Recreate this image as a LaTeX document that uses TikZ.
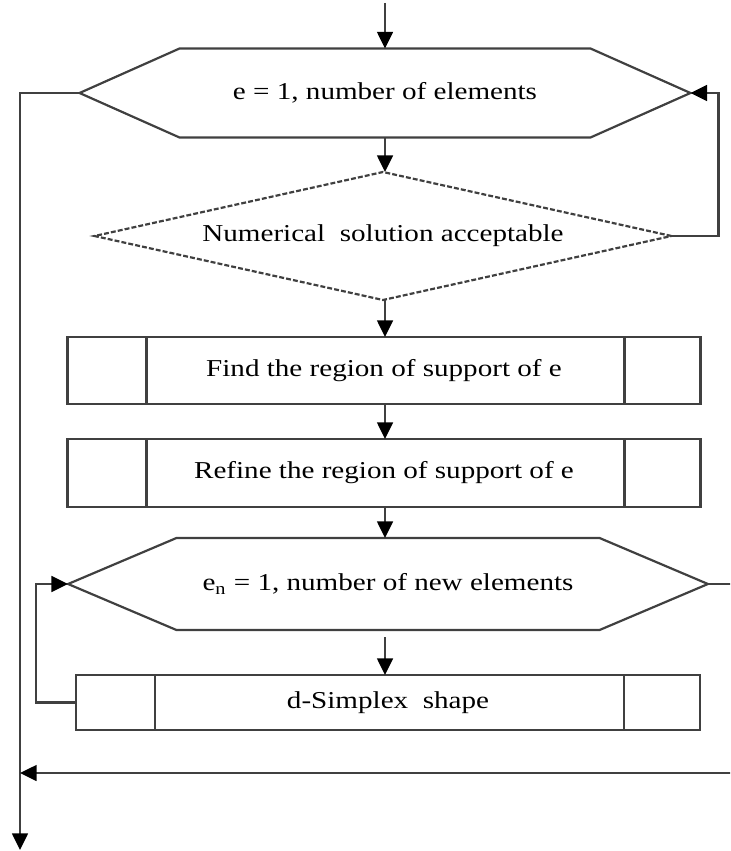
\documentclass[tikz,border=0pt]{standalone}
\usepackage{fontspec}
\setmainfont{Liberation Serif}[FakeStretch=1.2]
\usetikzlibrary{shapes.geometric,shapes.symbols,arrows.meta}

\begin{document}
\begin{tikzpicture}[x=0.02cm,y=-0.02cm,line width=1.25pt,>={Triangle[length=9.5pt,width=9pt,color=black]},
		font=\fontsize{13.8}{16}\selectfont]
	\tikzset{
		conn/.style={->,draw=black!75},
		hexbox/.style={signal,signal to=west and east,signal pointer angle=48,draw=black!75,inner sep=0pt,outer sep=0pt},
		testbox/.style={diamond,aspect=4.5,draw=black!75,dash pattern=on 2.8pt off 1.2pt,inner sep=0pt,outer sep=0pt},
		procbox/.style={rectangle,draw=black!75,inner sep=0pt,outer sep=0pt,minimum width=12.66cm,
			path picture={\draw[black!75,line width=1.25pt]
				([xshift=1.58cm]path picture bounding box.north west)--([xshift=1.58cm]path picture bounding box.south west)
				([xshift=-1.52cm]path picture bounding box.north east)--([xshift=-1.52cm]path picture bounding box.south east);}}
	}
	\useasboundingbox (0,0) rectangle (730,851);
	\clip (0,0) rectangle (730,851);
	% boxes
	\node[hexbox,minimum width=12.22cm,minimum height=1.78cm] (loop1) at (385,93) {e = 1, number of elements};
	\node[testbox,minimum width=11.54cm,minimum height=2.56cm] (accept) at (383,236) {Numerical\ \ solution acceptable};
	\node[procbox,minimum height=1.34cm] (find) at (384,370.5) {Find the region of support of e};
	\node[procbox,minimum height=1.36cm] (refine) at (384,473) {Refine the region of support of e};
	\node[hexbox,minimum width=12.8cm,minimum height=1.84cm,signal pointer angle=46] (loop2) at (388,584) {e\textsubscript{n} = 1, number of new elements};
	\node[procbox,minimum width=12.48cm,minimum height=1.1cm] (simplex) at (388,702.5) {d-Simplex\ \ shape};
	\coordinate (in) at (385,3);
	\coordinate (out) at (20,850);
	\coordinate (join) at (20,773);
	% connectors
	\draw[conn] (in) -- (loop1.north);
	\draw[conn] (loop1.south) -- (loop1.south |- accept.north);
	\draw[conn] (loop1.south |- accept.south) -- (loop1.south |- find.north);
	\draw[conn] (loop1.south |- find.south) -- (loop1.south |- refine.north);
	\draw[conn] (loop1.south |- refine.south) -- (loop1.south |- loop2.north);
	\draw[conn] ([yshift=-4pt]loop1.south |- loop2.south) -- (loop1.south |- simplex.north);
	\draw[conn] (loop1.west) -| (out);
	\draw[conn] (accept.east) -- ++(47,0) |- (loop1.east);
	\draw[conn] (simplex.west) -- ++(-40,0) |- (loop2.west);
	\draw[conn] (loop2.east) -- ++(60,0) |- (join);
\end{tikzpicture}
\end{document}
